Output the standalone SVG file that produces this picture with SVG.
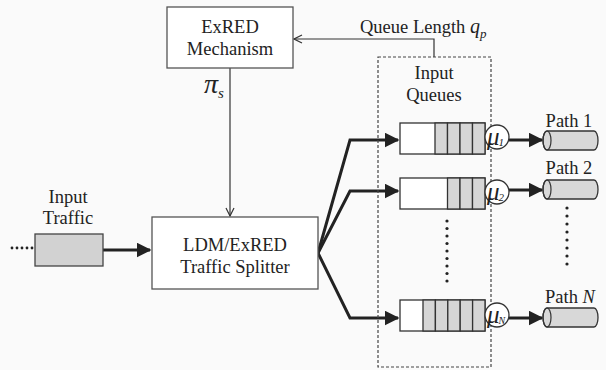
<svg xmlns="http://www.w3.org/2000/svg" width="606" height="370" viewBox="0 0 606 370">
<defs>
<style>
.box{fill:#fff;stroke:#555;stroke-width:1.3}
.t{font-family:"Liberation Serif","Times New Roman",serif;font-size:18.5px;fill:#222}
.ti{font-family:"Liberation Serif","Times New Roman",serif;font-style:italic;fill:#222}
.thin{fill:none;stroke:#333;stroke-width:1.2}
.thick{fill:none;stroke:#222;stroke-width:3}
.q{fill:#fff;stroke:#333;stroke-width:1.3}
.cell{fill:#d6d6d6;stroke:#333;stroke-width:1.3}
.cyl{fill:#d8d8d8;stroke:#333;stroke-width:1.3}
.mu{fill:#fff;stroke:#333;stroke-width:1.3}
.dot{fill:#222}
</style>
<marker id="open" viewBox="0 0 10 10" refX="9" refY="5" markerWidth="10" markerHeight="10" markerUnits="userSpaceOnUse" orient="auto">
<path d="M1,1 L9,5 L1,9" fill="none" stroke="#333" stroke-width="1.2"/>
</marker>
<marker id="solid" viewBox="0 0 10 10" refX="9" refY="5" markerWidth="5" markerHeight="5" orient="auto">
<path d="M0,0 L10,5 L0,10 z" fill="#222"/>
</marker>
</defs>
<rect width="606" height="370" fill="#fafafa"/>

<g id="connectors">
<path class="thin" d="M434,57 V39 H294" marker-end="url(#open)"/>
<path class="thin" d="M230,68 V216" marker-end="url(#open)"/>
<path class="thick" d="M103,250 H150" marker-end="url(#solid)"/>
<path class="thick" d="M318,253 L350,140 H398" marker-end="url(#solid)"/>
<path class="thick" d="M318,253 L350,191 H398" marker-end="url(#solid)"/>
<path class="thick" d="M318,253 L350,318 H398" marker-end="url(#solid)"/>
<path class="thick" d="M509,140 H542" marker-end="url(#solid)"/>
<path class="thick" d="M509,190 H542" marker-end="url(#solid)"/>
<path class="thick" d="M509,318 H542" marker-end="url(#solid)"/>
</g>

<g id="exred">
<rect class="box" x="167" y="7" width="126" height="61"/>
<text class="t" x="230" y="33" text-anchor="middle">ExRED</text>
<text class="t" x="230" y="55" text-anchor="middle">Mechanism</text>
</g>

<g id="pi-label">
<text class="ti" x="204" y="93" font-size="28">π<tspan font-size="15" dy="5">s</tspan></text>
</g>

<g id="queue-length-label">
<text class="t" x="360" y="33">Queue Length <tspan class="ti" font-size="20">q</tspan><tspan class="ti" font-size="13" dy="5">p</tspan></text>
</g>

<g id="input-traffic">
<text class="t" x="68" y="203" text-anchor="middle">Input</text>
<text class="t" x="68" y="224" text-anchor="middle">Traffic</text>
<rect x="35" y="234" width="68" height="32" fill="#d2d2d2" stroke="#444" stroke-width="1.3"/>
<circle class="dot" cx="12" cy="248" r="1.4"/>
<circle class="dot" cx="17" cy="248" r="1.4"/>
<circle class="dot" cx="22" cy="248" r="1.4"/>
<circle class="dot" cx="27" cy="248" r="1.4"/>
<circle class="dot" cx="32" cy="248" r="1.4"/>
</g>

<g id="splitter">
<rect class="box" x="152" y="217" width="166" height="72"/>
<text class="t" x="235" y="251" text-anchor="middle">LDM/ExRED</text>
<text class="t" x="235" y="273" text-anchor="middle">Traffic Splitter</text>
</g>

<g id="input-queues">
<rect x="378" y="57" width="113" height="310" fill="none" stroke="#444" stroke-width="1.2" stroke-dasharray="3,2"/>
<text class="t" x="434" y="79" text-anchor="middle">Input</text>
<text class="t" x="434" y="101" text-anchor="middle">Queues</text>
</g>

<g id="queue1">
<rect class="q" x="400" y="123" width="85" height="31"/>
<rect class="cell" x="435" y="123" width="12.5" height="31"/>
<rect class="cell" x="447.5" y="123" width="12.5" height="31"/>
<rect class="cell" x="460" y="123" width="12.5" height="31"/>
<rect class="cell" x="472.5" y="123" width="12.5" height="31"/>
<circle class="mu" cx="497" cy="137" r="12"/>
<text class="ti" x="487" y="145" font-size="25">μ<tspan font-size="11" dx="-1" dy="1">1</tspan></text>
</g>

<g id="queue2">
<rect class="q" x="400" y="178" width="85" height="31"/>
<rect class="cell" x="447.5" y="178" width="12.5" height="31"/>
<rect class="cell" x="460" y="178" width="12.5" height="31"/>
<rect class="cell" x="472.5" y="178" width="12.5" height="31"/>
<circle class="mu" cx="497" cy="192" r="12"/>
<text class="ti" x="487" y="200" font-size="25">μ<tspan font-size="11" dx="-1" dy="1">2</tspan></text>
</g>

<g id="queueN">
<rect class="q" x="400" y="300" width="85" height="31"/>
<rect class="cell" x="423" y="300" width="12.4" height="31"/>
<rect class="cell" x="435.4" y="300" width="12.4" height="31"/>
<rect class="cell" x="447.8" y="300" width="12.4" height="31"/>
<rect class="cell" x="460.2" y="300" width="12.4" height="31"/>
<rect class="cell" x="472.6" y="300" width="12.4" height="31"/>
<circle class="mu" cx="497" cy="315" r="12"/>
<text class="ti" x="487" y="323" font-size="25">μ<tspan font-size="10" dx="-1" dy="1">N</tspan></text>
</g>

<g id="queue-dots">
<circle class="dot" cx="447" cy="221" r="1.6"/>
<circle class="dot" cx="447" cy="228.5" r="1.6"/>
<circle class="dot" cx="447" cy="236" r="1.6"/>
<circle class="dot" cx="447" cy="243.5" r="1.6"/>
<circle class="dot" cx="447" cy="251" r="1.6"/>
<circle class="dot" cx="447" cy="258.5" r="1.6"/>
<circle class="dot" cx="447" cy="266" r="1.6"/>
<circle class="dot" cx="447" cy="273.5" r="1.6"/>
<circle class="dot" cx="447" cy="281" r="1.6"/>
</g>

<g id="path1">
<text class="t" x="569" y="127" text-anchor="middle">Path 1</text>
<path class="cyl" d="M547,131 H594 A4,9.5 0 0 1 594,150 H547 A4,9.5 0 0 1 547,131 Z"/>
<ellipse cx="547" cy="140.5" rx="4" ry="9.5" fill="none" stroke="#333" stroke-width="1.2"/>
</g>

<g id="path2">
<text class="t" x="569" y="174" text-anchor="middle">Path 2</text>
<path class="cyl" d="M547,180 H594 A4,9.5 0 0 1 594,199 H547 A4,9.5 0 0 1 547,180 Z"/>
<ellipse cx="547" cy="189.5" rx="4" ry="9.5" fill="none" stroke="#333" stroke-width="1.2"/>
</g>

<g id="path-dots">
<circle class="dot" cx="567" cy="208" r="1.6"/>
<circle class="dot" cx="567" cy="216" r="1.6"/>
<circle class="dot" cx="567" cy="224" r="1.6"/>
<circle class="dot" cx="567" cy="232" r="1.6"/>
<circle class="dot" cx="567" cy="240" r="1.6"/>
<circle class="dot" cx="567" cy="248" r="1.6"/>
<circle class="dot" cx="567" cy="256" r="1.6"/>
<circle class="dot" cx="567" cy="264" r="1.6"/>
</g>

<g id="pathN">
<text class="t" x="545" y="303">Path <tspan class="ti">N</tspan></text>
<path class="cyl" d="M547,308 H594 A4,9.5 0 0 1 594,327 H547 A4,9.5 0 0 1 547,308 Z"/>
<ellipse cx="547" cy="317.5" rx="4" ry="9.5" fill="none" stroke="#333" stroke-width="1.2"/>
</g>
</svg>
